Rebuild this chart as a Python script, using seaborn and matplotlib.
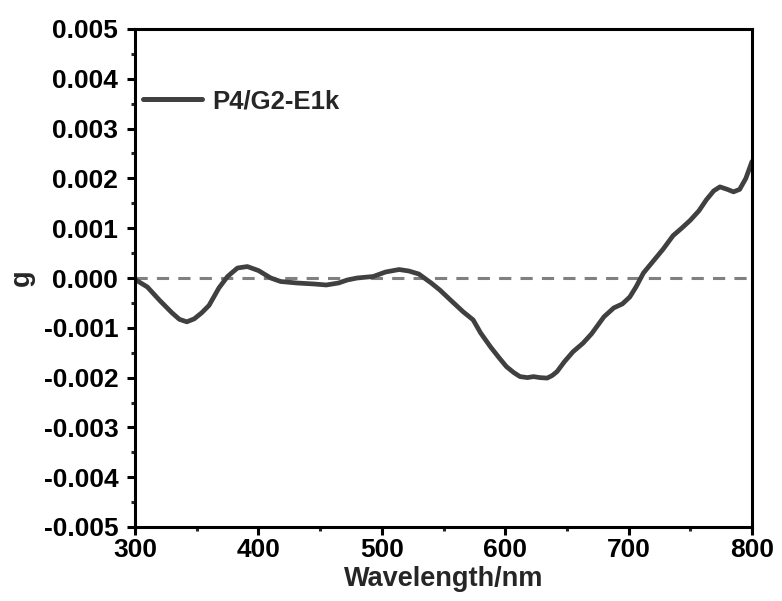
import matplotlib
matplotlib.use("Agg")
import matplotlib.pyplot as plt
import seaborn as sns
import pandas as pd
from matplotlib.ticker import MultipleLocator

wavelength = [300, 310, 320, 330, 336, 342, 348, 354, 360, 368, 375, 383, 391, 400, 410, 418,
              431, 445, 455, 465, 472, 480, 493, 503, 514, 522, 530, 540, 547, 556,
              566, 574, 580, 588, 595, 601, 607, 612, 618, 623, 628, 634, 638, 642,
              648, 655, 663, 670, 680, 688, 695, 701, 706, 712, 720, 728, 736, 743,
              750, 757, 763, 769, 774, 780, 785, 790, 795, 800]
g_values = [-0.00003, -0.00018, -0.00045, -0.0007, -0.00083, -0.00088, -0.00082, -0.0007,
            -0.00055, -0.0002,
            0.00003, 0.0002, 0.00023, 0.00015, 0.0, -0.00007, -0.0001, -0.00012,
            -0.00014, -0.0001, -0.00004, 0.0, 0.00003, 0.00012, 0.00017, 0.00014,
            0.00008, -0.0001, -0.00024, -0.00045, -0.00068, -0.00084, -0.0011,
            -0.00138, -0.0016, -0.00178, -0.0019, -0.00198, -0.002, -0.00198, -0.002,
            -0.00201, -0.00196, -0.00188, -0.00168, -0.00148, -0.00131, -0.00112,
            -0.00078, -0.0006, -0.00052, -0.00038, -0.00018, 0.0001, 0.00034, 0.00058,
            0.00085, 0.001, 0.00116, 0.00135, 0.00157, 0.00175, 0.00183, 0.00178,
            0.00173, 0.00178, 0.002, 0.00234]
series_name = "P4/G2-E1k"
x_ticks = [300, 400, 500, 600, 700, 800]
y_ticks = [-0.005, -0.004, -0.003, -0.002, -0.001, 0.0, 0.001, 0.002, 0.003, 0.004, 0.005]
y_tick_labels = ["-0.005", "-0.004", "-0.003", "-0.002", "-0.001", "0.000",
                 "0.001", "0.002", "0.003", "0.004", "0.005"]

df = pd.DataFrame({"Wavelength": wavelength, "g": g_values, "sample": series_name})

sns.set_style("ticks")
plt.rcParams["font.family"] = ["Liberation Sans", "DejaVu Sans"]
plt.rcParams["font.weight"] = "bold"

fig = plt.figure(figsize=(7.82, 6.01), dpi=100)
ax = fig.add_axes([135 / 782, 1 - 527 / 601, (752 - 135) / 782, (527 - 29) / 601])

ax.axhline(0, color="#808080", lw=2.2, ls=(0, (4, 3)), zorder=1)
sns.lineplot(data=df, x="Wavelength", y="g", hue="sample", palette=["#404040"],
             lw=3.4, ax=ax, zorder=2)
for ln in ax.get_lines():
    ln.set_solid_joinstyle("round")
    ln.set_solid_capstyle("round")

ax.set_xlim(300, 800)
ax.set_ylim(-0.005, 0.005)
ax.set_xticks(x_ticks)
ax.set_xticklabels([str(t) for t in x_ticks])
ax.set_yticks(y_ticks)
ax.set_yticklabels(y_tick_labels)
ax.xaxis.set_minor_locator(MultipleLocator(50))
ax.yaxis.set_minor_locator(MultipleLocator(0.0005))

for sp in ax.spines.values():
    sp.set_linewidth(2.2)
    sp.set_color("black")
ax.tick_params(which="major", direction="out", length=6, width=2.2, labelsize=19,
               colors="black")
ax.tick_params(axis="x", which="major", pad=2)
ax.tick_params(axis="y", which="major", pad=6)
ax.tick_params(which="minor", direction="out", length=3, width=2.2)
for lab in ax.get_xticklabels() + ax.get_yticklabels():
    lab.set_fontweight("bold")

ax.set_xlabel("Wavelength/nm", fontsize=19.5, fontweight="bold", labelpad=3)
ax.set_ylabel("g", fontsize=19.5, fontweight="bold", labelpad=6)

leg = ax.legend(loc="upper left", bbox_to_anchor=(-0.012, 0.91), frameon=False,
                prop={"size": 18.5, "weight": "bold"}, handlelength=2.3,
                handletextpad=0.4, borderaxespad=0.2)
for line in leg.get_lines():
    line.set_linewidth(3.6)

fig.savefig("out.png", dpi=100)
